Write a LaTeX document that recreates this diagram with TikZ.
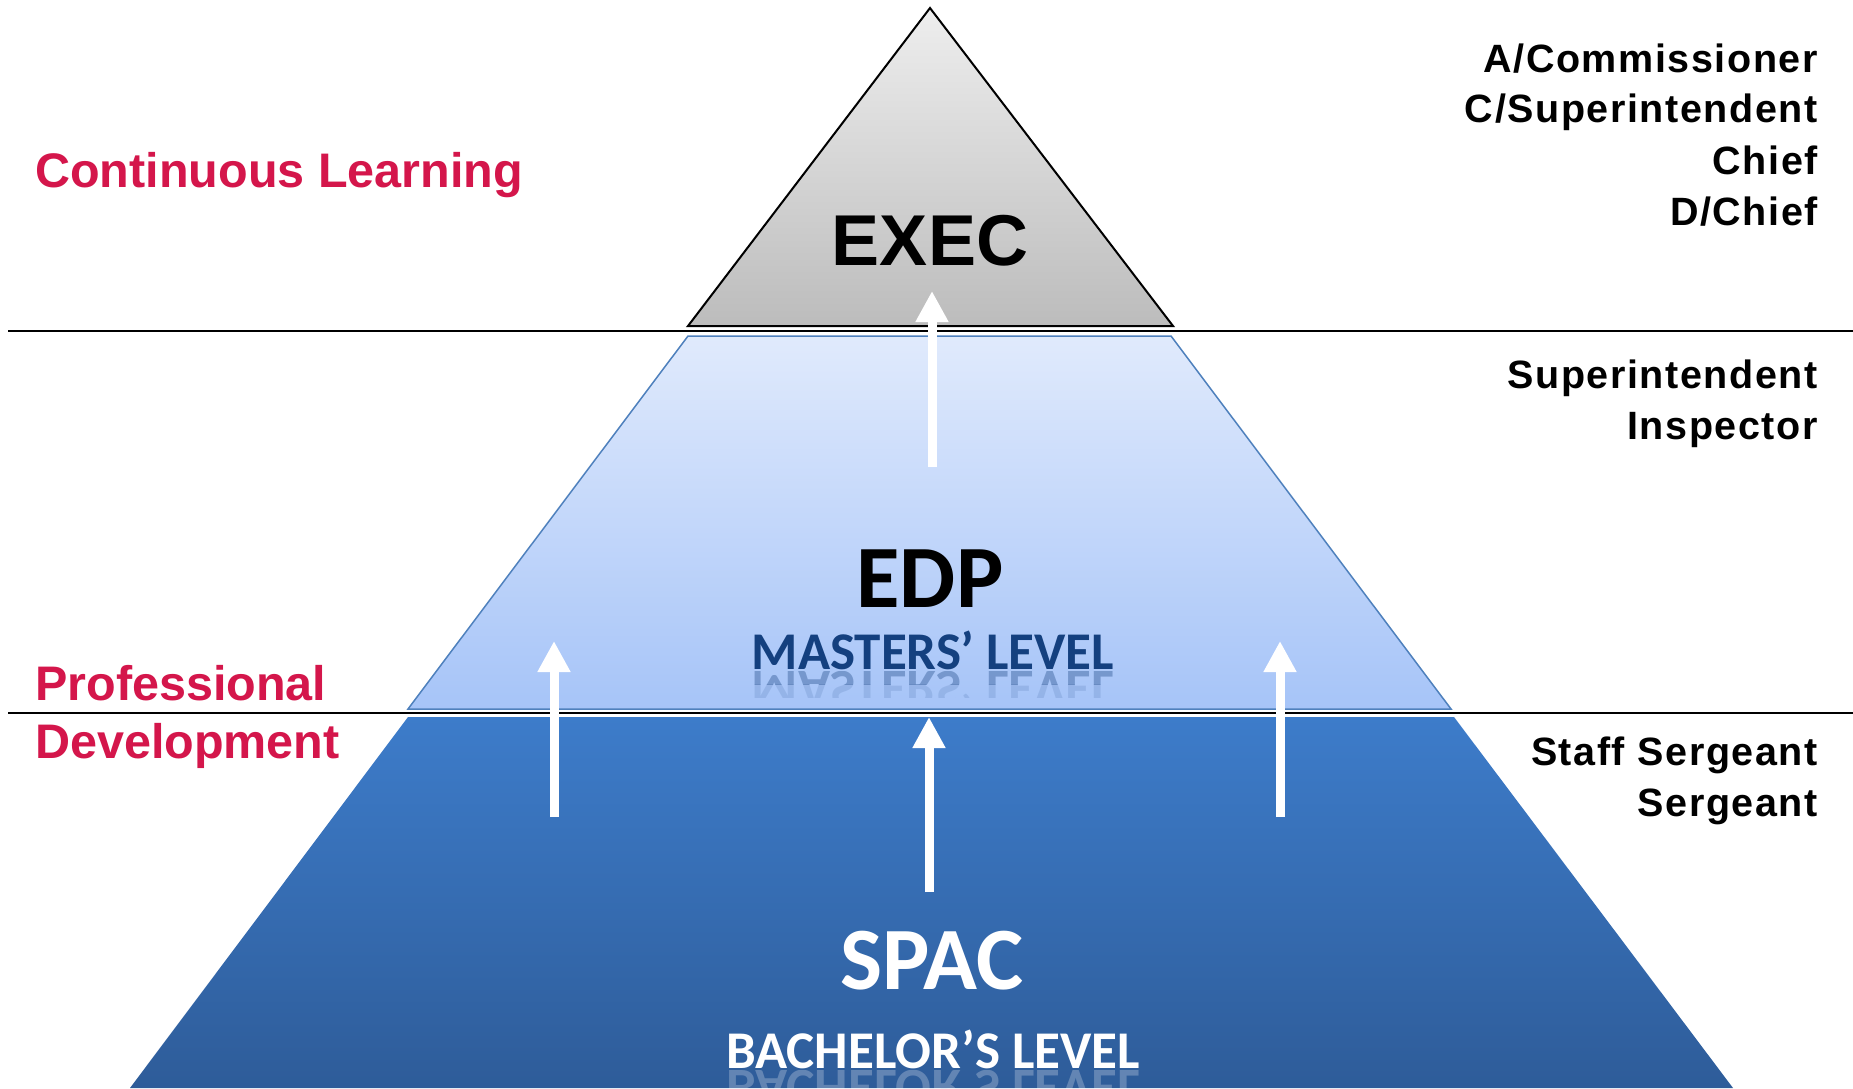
\documentclass[tikz,border=0pt]{standalone}
\usepackage{fontspec}
\setmainfont{Liberation Sans}
\newfontfamily\calib{Carlito}
\newfontfamily\rankfont[LetterSpace=4]{Liberation Sans}
\usetikzlibrary{arrows.meta}

\definecolor{crimson}{HTML}{D4164B}
\definecolor{navytext}{HTML}{14407F}
\definecolor{edptop}{HTML}{E0EAFC}
\definecolor{edpbot}{HTML}{A6C4F8}
\definecolor{edpedge}{HTML}{4F81BD}
\definecolor{spactop}{HTML}{3D7CCA}
\definecolor{spacbot}{HTML}{2E5C99}
\definecolor{exectop}{HTML}{EEEEEE}
\definecolor{execbot}{HTML}{BCBCBC}

\tikzset{
  divider/.style={line width=2pt, black},
  uparrow/.style={draw=white, line width=9pt,
    -{Triangle[width=31pt,length=31pt]}},
  sidelabel/.style={anchor=base west, inner sep=0pt, text=crimson,
    font=\fontsize{48.5}{58}\selectfont\bfseries},
  ranklabel/.style={anchor=base east, inner sep=0pt,
    font=\rankfont\fontsize{39.5}{47}\selectfont\bfseries},
  tiername/.style={anchor=base, inner sep=0pt,
    font=\calib\fontsize{89}{104}\selectfont\bfseries},
  tierlevel/.style={anchor=base, inner sep=0pt,
    font=\calib\fontsize{53}{62}\selectfont\bfseries},
}

\begin{document}
\begin{tikzpicture}[x=1pt, y=-1pt]
  \useasboundingbox (0,0) rectangle (1853,1088);
  \fill[white] (0,0) rectangle (1853,1088);

  % tiers of the pyramid
  \shade[top color=spactop, bottom color=spacbot]
    (408,717) -- (1454,717) -- (1733,1088) -- (130,1088) -- cycle;
  \shade[top color=edptop, bottom color=edpbot]
    (688,336) -- (1171,336) -- (1451,709) -- (408,709) -- cycle;
  \draw[edpedge, line width=1.5pt]
    (688,336) -- (1171,336) -- (1451,709) -- (408,709) -- cycle;
  \shade[top color=exectop, bottom color=execbot]
    (930,8) -- (1173,326) -- (688,326) -- cycle;
  \draw[black, line width=2pt, line join=miter]
    (930,8) -- (1173,326) -- (688,326) -- cycle;

  % band dividers
  \coordinate (d1a) at (8,331);   \coordinate (d1b) at (1853,331);
  \coordinate (d2a) at (8,713);   \coordinate (d2b) at (1853,713);
  \draw[divider] (d1a) -- (d1b);
  \draw[divider] (d2a) -- (d2b);

  % progression arrows
  \coordinate (c1s) at (932,467); \coordinate (c1e) at (932,291);
  \coordinate (c2s) at (929,892); \coordinate (c2e) at (929,717);
  \coordinate (ls)  at (554,817); \coordinate (le)  at (554,641);
  \coordinate (rs)  at (1280,817); \coordinate (re) at (1280,641);
  \draw[uparrow] (c1s) -- (c1e);
  \draw[uparrow] (c2s) -- (c2e);
  \draw[uparrow] (ls) -- (le);
  \draw[uparrow] (rs) -- (re);

  % tier names
  \node[anchor=base, inner sep=0pt,
    font=\fontsize{72}{86}\selectfont\bfseries] (exec) at (930,265) {EXEC};
  \node[tiername] (edp) at (930,607) {EDP};
  \node[tiername, text=white] (spac) at (932,989) {SPAC};

  % level captions with their reflections
  \node[tierlevel, text=navytext] (masters) at (933,669) {MASTERS’ LEVEL};
  \begin{scope}
    \clip (700,671) rectangle (1160,684);
    \node[tierlevel, text=navytext, yscale=-1, text opacity=0.35] (mastersr1) at (933,671) {MASTERS’ LEVEL};
  \end{scope}
  \begin{scope}
    \clip (700,684) rectangle (1160,697);
    \node[tierlevel, text=navytext, yscale=-1, text opacity=0.13] (mastersr2) at (933,671) {MASTERS’ LEVEL};
  \end{scope}
  \node[tierlevel, text=white] (bachelor) at (933,1068) {BACHELOR’S LEVEL};
  \begin{scope}
    \clip (700,1070) rectangle (1170,1088);
    \node[tierlevel, text=white, yscale=-1, text opacity=0.25] (bachelorr) at (933,1070) {BACHELOR’S LEVEL};
  \end{scope}

  % learning streams
  \node[sidelabel] (cl) at (35,187) {Continuous Learning};
  \node[sidelabel] (pd1) at (35,700) {Professional};
  \node[sidelabel] (pd2) at (35,758) {Development};

  % ranks
  \node[ranklabel] (r1) at (1818,72)  {A/Commissioner};
  \node[ranklabel] (r2) at (1818,122) {C/Superintendent};
  \node[ranklabel] (r3) at (1818,174) {Chief};
  \node[ranklabel] (r4) at (1818,225) {D/Chief};
  \node[ranklabel] (r5) at (1818,388) {Superintendent};
  \node[ranklabel] (r6) at (1818,439) {Inspector};
  \node[ranklabel] (r7) at (1818,765) {Staff Sergeant};
  \node[ranklabel] (r8) at (1818,816) {Sergeant};
\end{tikzpicture}
\end{document}
